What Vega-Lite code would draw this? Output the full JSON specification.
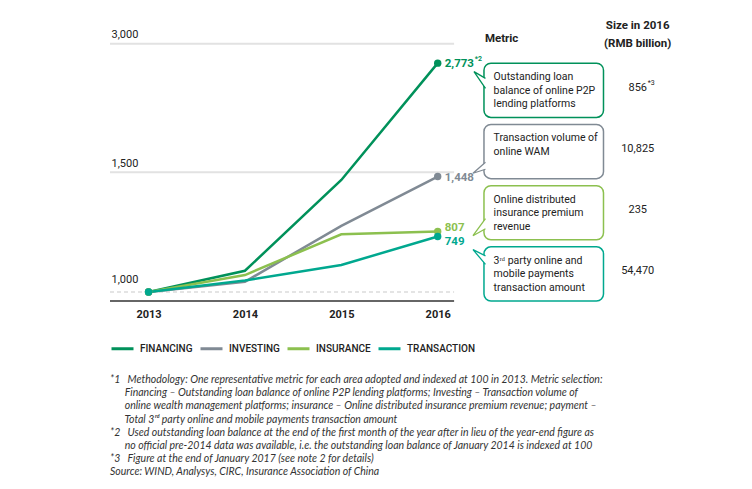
{
  "$schema": "https://vega.github.io/schema/vega-lite/v6.json",
  "width": 560,
  "height": 283,
  "padding": {"left": 109, "top": 18, "right": 10, "bottom": 2},
  "background": "white",
  "config": {
    "view": {"stroke": null},
    "font": "Roboto"
  },
  "datasets": {
    "index": [
      {"series": "FINANCING", "year": 2013, "value": 100},
      {"series": "FINANCING", "year": 2014, "value": 348},
      {"series": "FINANCING", "year": 2015, "value": 1408},
      {"series": "FINANCING", "year": 2016, "value": 2773, "note": "*2"},
      {"series": "INVESTING", "year": 2013, "value": 100},
      {"series": "INVESTING", "year": 2014, "value": 220},
      {"series": "INVESTING", "year": 2015, "value": 873},
      {"series": "INVESTING", "year": 2016, "value": 1448},
      {"series": "INSURANCE", "year": 2013, "value": 100},
      {"series": "INSURANCE", "year": 2014, "value": 298},
      {"series": "INSURANCE", "year": 2015, "value": 774},
      {"series": "INSURANCE", "year": 2016, "value": 807},
      {"series": "TRANSACTION", "year": 2013, "value": 100},
      {"series": "TRANSACTION", "year": 2014, "value": 234},
      {"series": "TRANSACTION", "year": 2015, "value": 415},
      {"series": "TRANSACTION", "year": 2016, "value": 749}
    ],
    "table": [
      {"area": "FINANCING", "metric": ["Outstanding loan", "balance of online P2P", "lending platforms"], "size": "856", "sizeNote": "*3"},
      {"area": "INVESTING", "metric": ["Transaction volume of", "online WAM"], "size": "10,825"},
      {"area": "INSURANCE", "metric": ["Online distributed", "insurance premium", "revenue"], "size": "235"},
      {"area": "TRANSACTION", "metric": ["3ʳᵈ party online and", "mobile payments", "transaction amount"], "size": "54,470"}
    ]
  },
  "title": {
    "text": [
      "*1\u00a0\u00a0\u00a0Methodology: One representative metric for each area adopted and indexed at 100 in 2013. Metric selection:",
      "\u200b\u00a0\u00a0\u00a0\u00a0\u00a0\u00a0Financing – Outstanding loan balance of online P2P lending platforms; Investing – Transaction volume of",
      "\u200b\u00a0\u00a0\u00a0\u00a0\u00a0\u00a0online wealth management platforms; insurance – Online distributed insurance premium revenue; payment –",
      "\u200b\u00a0\u00a0\u00a0\u00a0\u00a0\u00a0Total 3ʳᵈ party online and mobile payments transaction amount",
      "*2\u00a0\u00a0\u00a0Used outstanding loan balance at the end of the first month of the year after in lieu of the year-end figure as",
      "\u200b\u00a0\u00a0\u00a0\u00a0\u00a0\u00a0no official pre-2014 data was available, i.e. the outstanding loan balance of January 2014 is indexed at 100",
      "*3\u00a0\u00a0\u00a0Figure at the end of January 2017 (see note 2 for details)",
      "Source: WIND, Analysys, CIRC, Insurance Association of China"
    ],
    "orient": "bottom",
    "anchor": "start",
    "frame": "group",
    "font": "Lato",
    "fontSize": 10.5,
    "fontStyle": "italic",
    "fontWeight": "normal",
    "color": "#333333",
    "lineHeight": 13.2,
    "offset": 20
  },
  "layer": [
    {
      "layer": [
        {
          "data": {"values": [{"value": 1500}, {"value": 3000}]},
          "mark": {"type": "rule", "color": "#e2e2e2", "strokeWidth": 2},
          "encoding": {
            "y": {"field": "value", "type": "quantitative"},
            "x": {"datum": 2012.6},
            "x2": {"datum": 2016.17}
          }
        },
        {
          "data": {"values": [{"value": 100}]},
          "mark": {"type": "rule", "color": "#c9c9c9", "strokeWidth": 1, "strokeDash": [4, 3]},
          "encoding": {
            "y": {"field": "value", "type": "quantitative"},
            "x": {"datum": 2012.6},
            "x2": {"datum": 2016.17}
          }
        },
        {
          "data": {"values": [{"value": -5}]},
          "mark": {"type": "rule", "color": "#333333", "strokeWidth": 1.5},
          "encoding": {
            "y": {"field": "value", "type": "quantitative"},
            "x": {"datum": 2012.6},
            "x2": {"datum": 2016.17}
          }
        },
        {
          "data": {"name": "index"},
          "mark": {"type": "line", "strokeWidth": 2.5},
          "encoding": {
            "x": {
              "field": "year", "type": "quantitative",
              "scale": {"domain": [2012.6, 2018.41], "nice": false, "zero": false},
              "axis": {"values": [2013, 2014, 2015, 2016], "format": "d", "title": null, "grid": false, "domain": false, "ticks": false, "tickSize": 0, "labelPadding": 7, "labelFontSize": 11, "labelFontWeight": "bold", "labelColor": "#222222"}
            },
            "y": {
              "field": "value", "type": "quantitative",
              "scale": {"domain": [-5, 3300], "nice": false, "zero": false},
              "axis": {"values": [100, 1500, 3000], "labelExpr": "datum.value == 100 ? '1,000' : format(datum.value, ',')", "title": null, "grid": false, "domain": false, "ticks": false, "tickSize": 0, "labelAlign": "left", "labelBaseline": "bottom", "labelPadding": -1, "labelOffset": {"condition": {"test": "datum.value == 100", "value": -8}, "value": -4}, "labelFontSize": 11, "labelColor": "#222222"}
            },
            "color": {
              "field": "series", "type": "nominal",
              "scale": {"domain": ["FINANCING", "INVESTING", "INSURANCE", "TRANSACTION"], "range": ["#00915a", "#808a94", "#8cc04f", "#00a88f"]},
              "legend": {"orient": "bottom", "direction": "horizontal", "title": null, "symbolType": "stroke", "symbolSize": 484, "symbolStrokeWidth": 3, "columnPadding": 1, "labelOffset": 5, "labelFontSize": 10, "labelFontWeight": "500", "labelColor": "#222222", "offset": 17}
            }
          }
        },
        {
          "data": {"name": "index"},
          "transform": [{"filter": "datum.year == 2013 || datum.year == 2016"}],
          "mark": {"type": "point", "filled": true, "opacity": 1, "size": 55},
          "encoding": {
            "x": {"field": "year", "type": "quantitative"},
            "y": {"field": "value", "type": "quantitative"},
            "color": {"field": "series", "type": "nominal"}
          }
        },
        {
          "data": {"name": "index"},
          "transform": [{"filter": "datum.year == 2016 && (datum.series == 'FINANCING' || datum.series == 'INVESTING')"}],
          "mark": {"type": "text", "align": "left", "baseline": "middle", "dx": 7, "dy": 1, "fontSize": 11.5, "fontWeight": "bold"},
          "encoding": {
            "x": {"field": "year", "type": "quantitative"},
            "y": {"field": "value", "type": "quantitative"},
            "text": {"field": "value", "type": "quantitative", "format": ","},
            "color": {"field": "series", "type": "nominal"}
          }
        },
        {
          "data": {"name": "index"},
          "transform": [{"filter": "datum.year == 2016 && datum.series == 'INSURANCE'"}],
          "mark": {"type": "text", "align": "left", "baseline": "middle", "dx": 7, "dy": -3, "fontSize": 11.5, "fontWeight": "bold"},
          "encoding": {
            "x": {"field": "year", "type": "quantitative"},
            "y": {"field": "value", "type": "quantitative"},
            "text": {"field": "value", "type": "quantitative", "format": ","},
            "color": {"field": "series", "type": "nominal"}
          }
        },
        {
          "data": {"name": "index"},
          "transform": [{"filter": "datum.year == 2016 && datum.series == 'TRANSACTION'"}],
          "mark": {"type": "text", "align": "left", "baseline": "middle", "dx": 7, "dy": 6, "fontSize": 11.5, "fontWeight": "bold"},
          "encoding": {
            "x": {"field": "year", "type": "quantitative"},
            "y": {"field": "value", "type": "quantitative"},
            "text": {"field": "value", "type": "quantitative", "format": ","},
            "color": {"field": "series", "type": "nominal"}
          }
        },
        {
          "data": {"name": "index"},
          "transform": [{"filter": "isValid(datum.note)"}],
          "mark": {"type": "text", "align": "left", "baseline": "middle", "dx": 37, "dy": -4, "fontSize": 7, "fontWeight": "bold"},
          "encoding": {
            "x": {"field": "year", "type": "quantitative"},
            "y": {"field": "value", "type": "quantitative"},
            "text": {"field": "note"},
            "color": {"field": "series", "type": "nominal"}
          }
        },
        {
          "data": {"values": [{"label": "Metric"}]},
          "mark": {"type": "text", "align": "left", "baseline": "middle", "fontSize": 11.5, "fontWeight": "bold", "color": "#222222"},
          "encoding": {
            "x": {"datum": 2016.49},
            "y": {"datum": 3051},
            "text": {"field": "label"}
          }
        },
        {
          "data": {"values": [{"label": ["Size in 2016", "(RMB billion)"]}]},
          "mark": {"type": "text", "align": "center", "baseline": "middle", "fontSize": 11.5, "fontWeight": "bold", "lineHeight": 18.3, "color": "#222222"},
          "encoding": {
            "x": {"datum": 2018.075},
            "y": {"datum": 3211},
            "text": {"field": "label"}
          }
        }
      ]
    },
    {
      "data": {"name": "table"},
      "layer": [
        {
          "mark": {"type": "rect", "fill": "white", "strokeWidth": 1.5, "cornerRadius": 7},
          "encoding": {
            "x": {"datum": 2016.48},
            "x2": {"datum": 2017.72},
            "y": {"field": "area", "type": "nominal", "scale": {"domain": ["FINANCING", "INVESTING", "INSURANCE", "TRANSACTION"], "paddingInner": 0.1144, "paddingOuter": 0.37, "align": 1}, "axis": null},
            "stroke": {"field": "area", "type": "nominal", "scale": {"domain": ["FINANCING", "INVESTING", "INSURANCE", "TRANSACTION"], "range": ["#00915a", "#808a94", "#8cc04f", "#00a88f"]}, "legend": null}
          }
        },
        {
          "transform": [{"filter": "datum.area == 'FINANCING'"}],
          "mark": {"type": "point", "shape": "M0.15,-1.2L-1,-1.87L0.15,-0.2", "filled": true, "fill": "white", "opacity": 1, "size": 400, "strokeWidth": 1.3},
          "encoding": {
            "x": {"datum": 2016.48},
            "y": {"field": "area", "type": "nominal", "axis": null},
            "stroke": {"field": "area", "type": "nominal", "legend": null}
          }
        },
        {
          "transform": [{"filter": "datum.area == 'INVESTING'"}],
          "mark": {"type": "point", "shape": "M0.15,1.07L-1.1,2.17L0.15,1.77", "filled": true, "fill": "white", "opacity": 1, "size": 400, "strokeWidth": 1.3},
          "encoding": {
            "x": {"datum": 2016.48},
            "y": {"field": "area", "type": "nominal", "axis": null},
            "stroke": {"field": "area", "type": "nominal", "legend": null}
          }
        },
        {
          "transform": [{"filter": "datum.area == 'INSURANCE'"}],
          "mark": {"type": "point", "shape": "M0.15,0.6L-1.1,2.3L0.15,1.6", "filled": true, "fill": "white", "opacity": 1, "size": 400, "strokeWidth": 1.3},
          "encoding": {
            "x": {"datum": 2016.48},
            "y": {"field": "area", "type": "nominal", "axis": null},
            "stroke": {"field": "area", "type": "nominal", "legend": null}
          }
        },
        {
          "transform": [{"filter": "datum.area == 'TRANSACTION'"}],
          "mark": {"type": "point", "shape": "M0.15,-1.8L-1.1,-2.43L0.15,-0.96", "filled": true, "fill": "white", "opacity": 1, "size": 400, "strokeWidth": 1.3},
          "encoding": {
            "x": {"datum": 2016.48},
            "y": {"field": "area", "type": "nominal", "axis": null},
            "stroke": {"field": "area", "type": "nominal", "legend": null}
          }
        },
        {
          "mark": {"type": "text", "align": "left", "baseline": "middle", "dy": 14, "fontSize": 10.5, "lineHeight": 13.5, "color": "#222222"},
          "encoding": {
            "x": {"datum": 2016.58},
            "y": {"field": "area", "type": "nominal", "bandPosition": 0, "axis": null},
            "text": {"field": "metric"}
          }
        },
        {
          "mark": {"type": "text", "align": "center", "baseline": "middle", "fontSize": 11, "color": "#222222"},
          "encoding": {
            "x": {"datum": 2018.075},
            "y": {"field": "area", "type": "nominal", "bandPosition": 0.45, "axis": null},
            "text": {"field": "size"}
          }
        },
        {
          "transform": [{"filter": "isValid(datum.sizeNote)"}],
          "mark": {"type": "text", "align": "left", "baseline": "middle", "dy": -5, "fontSize": 7, "color": "#222222"},
          "encoding": {
            "x": {"datum": 2018.18},
            "y": {"field": "area", "type": "nominal", "bandPosition": 0.45, "axis": null},
            "text": {"field": "sizeNote"}
          }
        }
      ]
    }
  ],
  "resolve": {"scale": {"y": "independent"}}
}
